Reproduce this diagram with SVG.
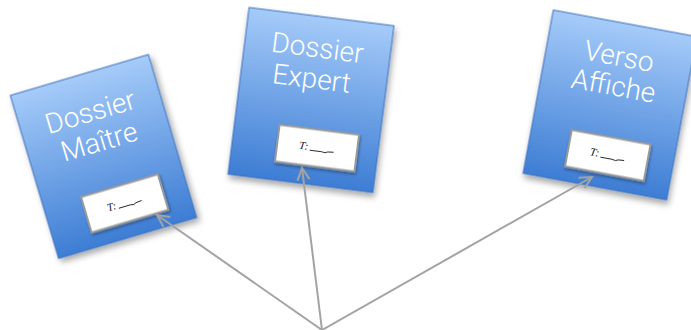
<svg xmlns="http://www.w3.org/2000/svg" width="691" height="330" viewBox="0 0 691 330">
<defs>
<linearGradient id="cardGrad" x1="0" y1="0" x2="0" y2="1">
<stop offset="0" stop-color="#a5cbf9"/>
<stop offset="1" stop-color="#3d7dd4"/>
</linearGradient>
<filter id="shadow" x="-20%" y="-20%" width="140%" height="140%">
<feDropShadow dx="2" dy="4" stdDeviation="3" flood-color="#000" flood-opacity="0.35"/>
</filter>
<filter id="shadowSmall" x="-20%" y="-20%" width="140%" height="150%">
<feDropShadow dx="1" dy="2" stdDeviation="1.5" flood-color="#000" flood-opacity="0.35"/>
</filter>
<marker id="arrow" markerUnits="userSpaceOnUse" markerWidth="16" markerHeight="16" refX="13" refY="7" orient="auto" viewBox="0 0 16 14">
<path d="M1,1 L13,7 L1,13" fill="none" stroke="#a3a3a3" stroke-width="2"/>
</marker>
</defs>
<style>
.card{fill:url(#cardGrad);stroke:#3f72bd;stroke-width:1;filter:url(#shadow)}
.title{font-family:Roboto,"Liberation Sans",sans-serif;font-weight:300;font-size:28px;fill:#ffffff;text-anchor:middle}
.tag{fill:#ffffff;stroke:#9a9a9a;stroke-width:2;filter:url(#shadowSmall)}
.tagtext{font-family:"Liberation Serif",serif;font-style:italic;font-size:11px;fill:#111}
.blank{fill:none;stroke:#222;stroke-width:0.9}
.conn{fill:none;stroke:#a3a3a3;stroke-width:2;marker-end:url(#arrow)}
</style>
<g id="dossier-maitre" transform="translate(103.5,156.5) rotate(-16.5)">
<rect class="card" x="-72" y="-85" width="144" height="170"/>
<text class="title" x="0" y="-37">Dossier</text>
<text class="title" x="0" y="-6">Maître</text>
<g transform="translate(7,51)">
<rect class="tag" x="-40" y="-18.5" width="80" height="37"/>
<text class="tagtext" x="-18" y="3">T:</text>
<path class="blank" d="M-7,3 L5,3 Q9,4.5 11,2.5 L17,2"/>
</g>
</g>
<g id="dossier-expert" transform="translate(311,100) rotate(7.2)">
<rect class="card" x="-73" y="-84" width="146" height="168"/>
<text class="title" x="0" y="-43">Dossier</text>
<text class="title" x="-2" y="-12">Expert</text>
<g transform="translate(12,47)">
<rect class="tag" x="-40" y="-18.5" width="80" height="37"/>
<text class="tagtext" x="-18" y="3">T:</text>
<path class="blank" d="M-7,3 L5,3 Q9,4.5 11,2.5 L17,2"/>
</g>
</g>
<g id="verso-affiche" transform="translate(610,105) rotate(10.5)">
<rect class="card" x="-73" y="-83" width="146" height="166"/>
<text class="title" x="0" y="-40">Verso</text>
<text class="title" x="0" y="-10">Affiche</text>
<g transform="translate(7,50)">
<rect class="tag" x="-40" y="-18.5" width="80" height="37"/>
<text class="tagtext" x="-18" y="3">T:</text>
<path class="blank" d="M-7,3 L5,3 Q9,4.5 11,2.5 L17,2"/>
</g>
</g>
<g id="connectors">
<line class="conn" x1="322" y1="330" x2="157" y2="215"/>
<line class="conn" x1="322" y1="330" x2="302" y2="168"/>
<line class="conn" x1="322" y1="330" x2="592" y2="177"/>
</g>
</svg>
